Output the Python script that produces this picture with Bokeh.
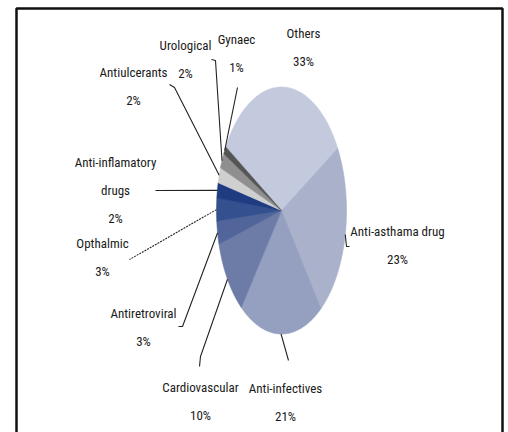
import numpy as np
from bokeh.plotting import figure
from bokeh.models import Range1d
from bokeh.core.properties import value
from bokeh.embed import file_html
from bokeh.resources import INLINE

# ---- data ----
categories = ["Others", "Anti-asthama drug", "Anti-infectives", "Cardiovascular",
              "Antiretroviral", "Opthalmic", "Anti-inflamatory drugs",
              "Antiulcerants", "Urological", "Gynaec"]
shares = [33, 23, 21, 10, 3, 3, 2, 2, 2, 1]
label_lines = [["Others"], ["Anti-asthama drug"], ["Anti-infectives"], ["Cardiovascular"],
               ["Antiretroviral"], ["Opthalmic"], ["Anti-inflamatory", "drugs"],
               ["Antiulcerants"], ["Urological"], ["Gynaec"]]

# ---- style / layout ----
colors = ["#c4cadd", "#aab2cb", "#959fbf", "#6d7ca6", "#51659a", "#34508e",
          "#1f3b82", "#cfcfcf", "#8f8f8f", "#555555"]
W, H = 508, 432
cx, cy, rx, ry = 281, 210, 65, 123.5
start_deg = 149.0           # first slice starts here, slices go clockwise
FONT = value("Roboto Condensed, Liberation Sans, sans-serif")
line_gap = 28
# label anchor (center x, center y of first line) per category
label_pos = [(303, 33), (397, 231), (285, 388), (200, 387), (143, 313), (102, 243),
             (115, 162), (133, 72), (185, 45), (236, 39)]
# leader path waypoints after the slice edge point (None = no leader)
leader_pts = [None,
              [(346, 246), (349, 246)],
              [(288, 360)],
              [(200, 356), (199, 366)],
              [(182, 326), (178, 326)],
              [(129, 259)],
              [(155, 190)],
              [(174, 87), (169, 84)],
              [(215, 60), (211, 59)],
              [(237, 87)]]
leader_dash = ["solid", "solid", "solid", "solid", "solid", "2 1", "solid", "solid", "solid", "solid"]

p = figure(width=W, height=H, x_range=Range1d(0, W), y_range=Range1d(H, 0),
           output_backend="svg", toolbar_location=None, min_border=0)
p.axis.visible = False
p.grid.visible = False
p.outline_line_color = None
p.background_fill_color = "white"
p.border_fill_color = "white"

# frame
p.quad(left=[16], right=[502], top=[8], bottom=[445], fill_color=None,
       line_color="#111111", line_width=2.5)

# pie slices as elliptical wedges
total = float(sum(shares))
ends = start_deg - 360.0 * np.cumsum(shares) / total
starts = np.concatenate([[start_deg], ends[:-1]])
xs, ys, mids = [], [], []
for a0, a1 in zip(starts, ends):
    t = np.radians(np.linspace(a0, a1, 80))
    xs.append(np.concatenate([[cx], cx + rx * np.cos(t)]).tolist())
    ys.append(np.concatenate([[cy], cy - ry * np.sin(t)]).tolist())
    mids.append(np.radians((a0 + a1) / 2))
p.patches(xs, ys, fill_color=colors, line_color=colors, line_width=0.6)

# leaders
for m, pts, dash in zip(mids, leader_pts, leader_dash):
    if pts is None:
        continue
    ex, ey = cx + rx * np.cos(m), cy - ry * np.sin(m)
    lx = [ex] + [q[0] for q in pts]
    ly = [ey] + [q[1] for q in pts]
    p.line(lx, ly, line_color="#222222", line_width=1.1, line_dash=dash)

# labels
tx, ty, tt = [], [], []
for lines, s, (x0, y0) in zip(label_lines, shares, label_pos):
    allines = lines + [f"{s}%"]
    for i, txt in enumerate(allines):
        tx.append(x0)
        ty.append(y0 + i * line_gap)
        tt.append(txt)
p.text(tx, ty, text=tt, text_font=FONT, text_font_size="13px", text_color="#1a1a1a",
       text_align="center", text_baseline="middle")

open("out.html", "w").write(file_html(p, INLINE))
